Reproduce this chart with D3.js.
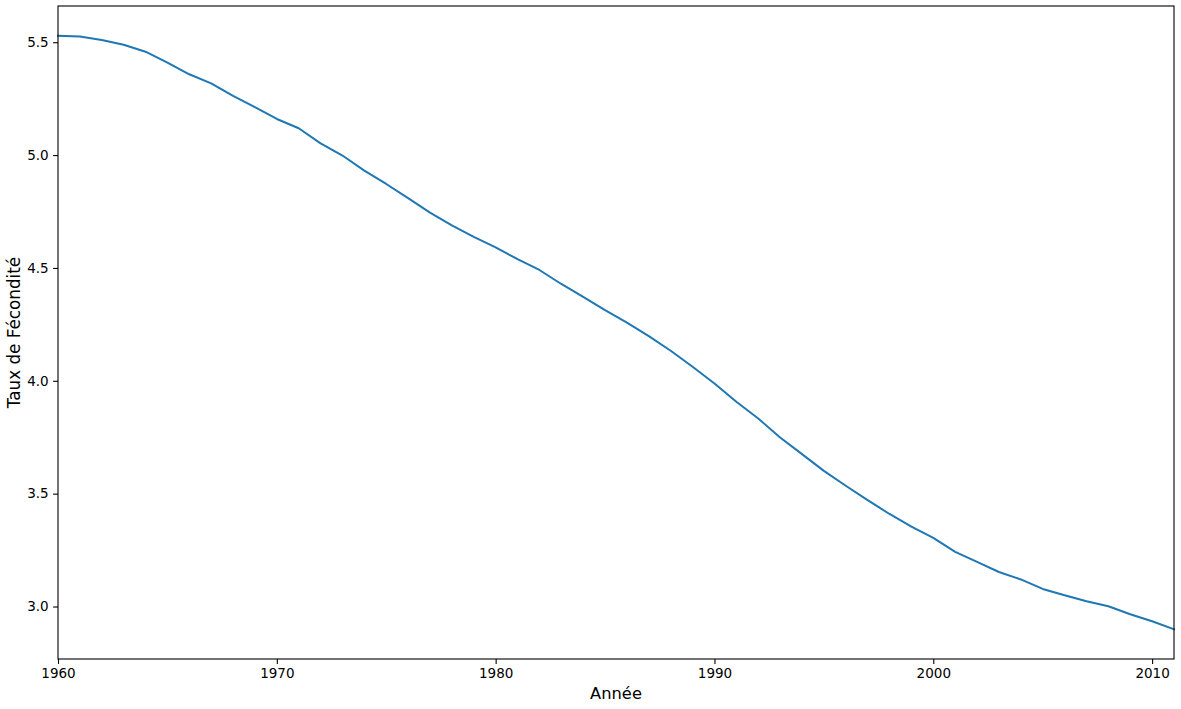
<!DOCTYPE html>
<html>
<head>
<meta charset="utf-8">
<script src="https://cdn.jsdelivr.net/npm/d3@7"></script>
<style>
  html, body { margin: 0; padding: 0; background: #fff; }
  svg { display: block; font-family: "DejaVu Sans", sans-serif; }
</style>
</head>
<body>
<svg id="chart" width="1181" height="709"></svg>
<script>
const years = d3.range(1960, 2012);
const fertility = [
  5.529, 5.525, 5.510, 5.489, 5.458, 5.410, 5.358, 5.318, 5.262, 5.212,
  5.160, 5.119, 5.052, 4.998, 4.931, 4.872, 4.809, 4.745, 4.689, 4.638,
  4.591, 4.539, 4.491, 4.429, 4.372, 4.313, 4.258, 4.198, 4.133, 4.062,
  3.988, 3.907, 3.833, 3.749, 3.675, 3.601, 3.535, 3.471, 3.410, 3.354,
  3.304, 3.242, 3.198, 3.153, 3.120, 3.078, 3.050, 3.023, 3.001, 2.966,
  2.935, 2.899
];
const xTicks = [1960, 1970, 1980, 1990, 2000, 2010];
const yTicks = [3.0, 3.5, 4.0, 4.5, 5.0, 5.5];
const xLabel = "Année";
const yLabel = "Taux de Fécondité";

const data = years.map((y, i) => ({ year: y, value: fertility[i] }));

const svg = d3.select("#chart");
const m = { left: 58, right: 1174, top: 6, bottom: 659 };

const vmin = d3.min(fertility), vmax = d3.max(fertility);
const pad = (vmax - vmin) * 0.05;

const x = d3.scaleLinear().domain([1960, 2011]).range([m.left, m.right]);
const y = d3.scaleLinear().domain([vmin - pad, vmax + pad]).range([m.bottom, m.top]);

// line
svg.append("path")
  .datum(data)
  .attr("fill", "none")
  .attr("stroke", "#1f77b4")
  .attr("stroke-width", 2)
  .attr("stroke-linejoin", "round")
  .attr("stroke-linecap", "square")
  .attr("d", d3.line().x(d => x(d.year)).y(d => y(d.value)));

// axes
const xAxis = svg.append("g")
  .attr("transform", `translate(0,${m.bottom})`)
  .call(d3.axisBottom(x).tickValues(xTicks).tickFormat(d3.format("d")).tickSizeOuter(0).tickSize(4.9).tickPadding(4.5));
const yAxis = svg.append("g")
  .attr("transform", `translate(${m.left},0)`)
  .call(d3.axisLeft(y).tickValues(yTicks).tickFormat(d3.format(".1f")).tickSizeOuter(0).tickSize(4.9).tickPadding(4.5));

[xAxis, yAxis].forEach(g => {
  g.attr("font-size", null).attr("font-family", null);
  g.select(".domain").remove();
  g.selectAll("line").attr("stroke", "#000").attr("stroke-width", 1.1);
  g.selectAll("text").attr("fill", "#000").style("font-size", "13.5px").style("font-family", "'DejaVu Sans', sans-serif");
});

// frame
svg.append("rect")
  .attr("x", m.left).attr("y", m.top)
  .attr("width", m.right - m.left).attr("height", m.bottom - m.top)
  .attr("fill", "none").attr("stroke", "#000").attr("stroke-width", 1.1);

// labels
svg.append("text")
  .attr("x", (m.left + m.right) / 2).attr("y", 698.5)
  .attr("text-anchor", "middle")
  .style("font-size", "16.3px")
  .text(xLabel);

svg.append("text")
  .attr("transform", `translate(20,${(m.top + m.bottom) / 2}) rotate(-90)`)
  .attr("text-anchor", "middle")
  .style("font-size", "16.8px")
  .text(yLabel);
</script>
</body>
</html>
